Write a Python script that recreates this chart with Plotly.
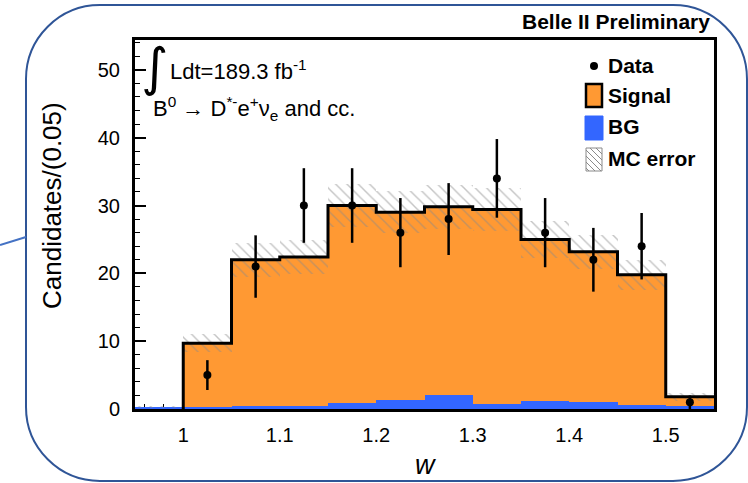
import plotly.graph_objects as go

# ---------------- data ----------------
bin_lo = [0.95, 1.00, 1.05, 1.10, 1.15, 1.20, 1.25, 1.30, 1.35, 1.40, 1.45, 1.50]
bin_width = 0.05
signal = [0.0, 9.4, 21.5, 21.9, 29.1, 27.7, 27.8, 28.6, 23.8, 22.2, 19.2, 1.4]
bg = [0.3, 0.3, 0.5, 0.5, 0.9, 1.3, 2.0, 0.8, 1.2, 1.0, 0.6, 0.4]
mc_err = [0.1, 1.3, 2.5, 2.5, 3.2, 3.1, 3.2, 3.2, 2.7, 2.5, 2.2, 0.6]

data_x = [1.025, 1.075, 1.125, 1.175, 1.225, 1.275, 1.325, 1.375, 1.425, 1.475, 1.525]
data_y = [5, 21, 30, 30, 26, 28, 34, 26, 22, 24, 1]
data_err = [2.2, 4.6, 5.5, 5.5, 5.1, 5.3, 5.8, 5.1, 4.7, 4.9, 1.0]

x_ticks = [1.0, 1.1, 1.2, 1.3, 1.4, 1.5]
x_tick_labels = ["1", "1.1", "1.2", "1.3", "1.4", "1.5"]
y_ticks = [0, 10, 20, 30, 40, 50]
y_tick_labels = ["0", "10", "20", "30", "40", "50"]

# ---------------- derived ----------------
centers = [lo + bin_width / 2 for lo in bin_lo]
total = [s + b for s, b in zip(signal, bg)]
err_base = [t - e for t, e in zip(total, mc_err)]
err_span = [2 * e for e in mc_err]

outline_x = [bin_lo[1]] + bin_lo[1:] + [bin_lo[-1] + bin_width]
outline_y = [0] + total[1:] + [total[-1]]

FONT = "Liberation Sans, Arial, sans-serif"
ORANGE = "#FF9933"
BLUE = "#3366FF"

W, H = 748, 483
L, R, T, B = 135, 34, 40, 74
PW, PH = W - L - R, H - T - B


def px(xp):
    return (xp - L) / PW


def py(yp):
    return (H - B - yp) / PH


fig = go.Figure()
fig.add_trace(go.Bar(x=centers, y=total, width=bin_width, name="Signal",
                     marker=dict(color=ORANGE, line=dict(width=0)), showlegend=False))
fig.add_trace(go.Bar(x=centers, y=bg, width=bin_width, name="BG",
                     marker=dict(color=BLUE, line=dict(width=0)), showlegend=False))
fig.add_trace(go.Bar(x=centers, y=err_span, base=err_base, width=bin_width, name="MC error",
                     marker=dict(color="rgba(0,0,0,0)", line=dict(width=0),
                                 pattern=dict(shape="\\", fgcolor="#8a8a8a", bgcolor="rgba(0,0,0,0)",
                                              size=8, solidity=0.18, fillmode="overlay")),
                     showlegend=False))
fig.add_trace(go.Scatter(x=outline_x, y=outline_y, mode="lines", line=dict(color="black", width=3, shape="hv"),
                         showlegend=False, hoverinfo="skip"))
fig.add_trace(go.Scatter(x=data_x, y=data_y, mode="markers", name="Data",
                         marker=dict(color="black", size=8),
                         error_y=dict(type="data", array=data_err, color="black", thickness=2.5, width=0),
                         showlegend=False))

axis_common = dict(showline=True, linewidth=3, linecolor="black", mirror=True, showgrid=False,
                   zeroline=False, ticks="inside", tickcolor="black", tickwidth=1.5,
                   tickfont=dict(family=FONT, size=20, color="black"))

fig.update_layout(
    width=W, height=H,
    margin=dict(l=L, r=R, t=T, b=B),
    paper_bgcolor="white", plot_bgcolor="white",
    barmode="overlay", bargap=0,
    showlegend=False,
    xaxis=dict(range=[0.95, 1.55], tickmode="array", tickvals=x_ticks, ticktext=x_tick_labels,
               ticklen=10, layer="below traces", ticklabelstandoff=6,
               minor=dict(ticks="inside", dtick=0.02, tick0=1.0, ticklen=5, tickcolor="black", tickwidth=1),
               **axis_common),
    yaxis=dict(range=[0, 54.4], tickmode="array", tickvals=y_ticks, ticktext=y_tick_labels,
               ticklen=11, ticklabelstandoff=8,
               minor=dict(ticks="inside", dtick=2, tick0=0, ticklen=5, tickcolor="black", tickwidth=1),
               **axis_common),
)

ann = []
# Title
ann.append(dict(x=px(712), y=py(22), xref="paper", yref="paper", xanchor="right", yanchor="middle",
                text="<b>Belle II Preliminary</b>", showarrow=False,
                font=dict(family=FONT, size=21, color="black")))
# axis titles
ann.append(dict(x=px(52), y=py(206), xref="paper", yref="paper", xanchor="center", yanchor="middle",
                text="Candidates/(0.05)", textangle=-90, showarrow=False,
                font=dict(family=FONT, size=26, color="black")))
ann.append(dict(x=px(425), y=py(465), xref="paper", yref="paper", xanchor="center", yanchor="middle",
                text="<i>w</i>", showarrow=False,
                font=dict(family=FONT, size=27, color="black")))
# top-left text
ann.append(dict(x=px(154), y=py(67), xref="paper", yref="paper", xanchor="center", yanchor="middle",
                text="∫", showarrow=False, font=dict(family="DejaVu Sans", size=52, color="black")))
ann.append(dict(x=px(168), y=py(70), xref="paper", yref="paper", xanchor="left", yanchor="middle",
                text="Ldt=189.3 fb<sup>-1</sup>", showarrow=False,
                font=dict(family=FONT, size=22, color="black")))
ann.append(dict(x=px(151), y=py(108), xref="paper", yref="paper", xanchor="left", yanchor="middle",
                text="B<sup>0</sup> → D<sup>*-</sup>e<sup>+</sup>ν<sub>e</sub> and cc.", showarrow=False,
                font=dict(family=FONT, size=22, color="black")))
# legend texts
for label, yc in [("Data", 65), ("Signal", 95), ("BG", 127), ("MC error", 158)]:
    ann.append(dict(x=px(606), y=py(yc), xref="paper", yref="paper", xanchor="left", yanchor="middle",
                    text="<b>%s</b>" % label, showarrow=False,
                    font=dict(family=FONT, size=21, color="black")))

shapes = []
# legend symbols
shapes.append(dict(type="circle", xref="paper", yref="paper", x0=px(590), x1=px(598), y0=py(70), y1=py(62),
                   fillcolor="black", line=dict(width=0)))
shapes.append(dict(type="rect", xref="paper", yref="paper", x0=px(586), x1=px(602), y0=py(107), y1=py(84),
                   fillcolor=ORANGE, line=dict(color="black", width=2.5)))
shapes.append(dict(type="rect", xref="paper", yref="paper", x0=px(585), x1=px(603), y0=py(140), y1=py(116),
                   fillcolor=BLUE, line=dict(color=BLUE, width=1)))
bx0, bx1, by0, by1 = 586, 602, 148, 171
shapes.append(dict(type="rect", xref="paper", yref="paper", x0=px(bx0), x1=px(bx1), y0=py(by1), y1=py(by0),
                   fillcolor="white", line=dict(color="#8a8a8a", width=1)))
for k in range(-20, 17, 6):
    t0 = max(0, -k)
    t1 = min(by1 - by0, bx1 - bx0 - k)
    if t1 > t0:
        shapes.append(dict(type="line", xref="paper", yref="paper",
                           x0=px(bx0 + k + t0), y0=py(by0 + t0), x1=px(bx0 + k + t1), y1=py(by0 + t1),
                           line=dict(color="#8a8a8a", width=1)))

# outer rounded frame (slide decoration)
fx0, fy0, fx1, fy1, r = 26, 5, 747, 481, 74
k = 0.5523 * r


def P(x, y):
    return "%.5f,%.5f" % (px(x), py(y))


path = ("M " + P(fx0 + r, fy0) + " L " + P(fx1 - r, fy0) +
        " C " + P(fx1 - r + k, fy0) + " " + P(fx1, fy0 + r - k) + " " + P(fx1, fy0 + r) +
        " L " + P(fx1, fy1 - r) +
        " C " + P(fx1, fy1 - r + k) + " " + P(fx1 - r + k, fy1) + " " + P(fx1 - r, fy1) +
        " L " + P(fx0 + r, fy1) +
        " C " + P(fx0 + r - k, fy1) + " " + P(fx0, fy1 - r + k) + " " + P(fx0, fy1 - r) +
        " L " + P(fx0, fy0 + r) +
        " C " + P(fx0, fy0 + r - k) + " " + P(fx0 + r - k, fy0) + " " + P(fx0 + r, fy0) + " Z")
shapes.append(dict(type="path", xref="paper", yref="paper", path=path,
                   line=dict(color="#2F5597", width=2), layer="below"))
shapes.append(dict(type="line", xref="paper", yref="paper", x0=px(0), y0=py(245), x1=px(fx0), y1=py(237),
                   line=dict(color="#4472C4", width=2), layer="below"))

fig.update_layout(annotations=ann, shapes=shapes)
fig.write_html("out.html", config={"displayModeBar": False},
               post_script="document.body.style.margin='0';document.body.style.overflow='hidden';")
